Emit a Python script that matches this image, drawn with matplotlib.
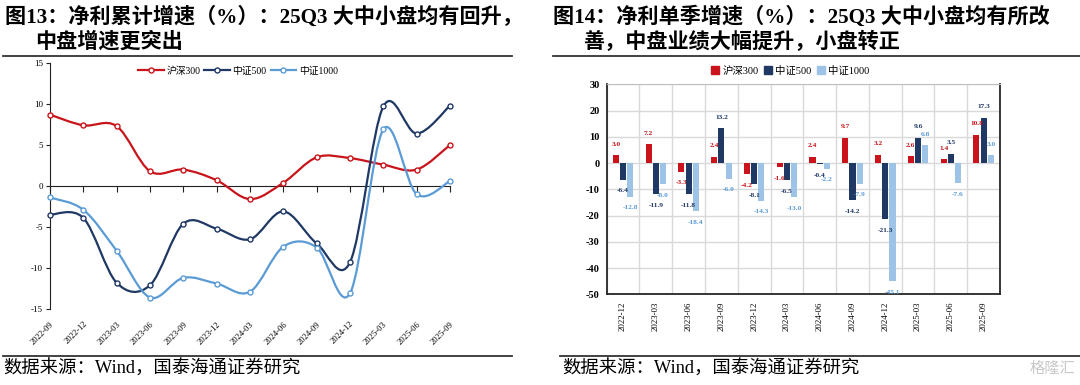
import numpy as np
import matplotlib.pyplot as plt
from matplotlib.path import Path
from matplotlib.patches import PathPatch, Patch
from matplotlib.lines import Line2D

plt.rcParams['font.family'] = ['Liberation Serif', 'Noto Sans CJK SC']
plt.rcParams['axes.unicode_minus'] = False

W, H = 1080, 385

# ---- data: cumulative growth (left) ----
quarters_cum = ['2022-09', '2022-12', '2023-03', '2023-06', '2023-09', '2023-12', '2024-03',
                '2024-06', '2024-09', '2024-12', '2025-03', '2025-06', '2025-09']
hs300_cum = [8.7, 7.4, 7.3, 1.8, 2.0, 0.7, -1.6, 0.4, 3.5, 3.4, 2.6, 2.0, 5.0]
zz500_cum = [-3.5, -3.9, -11.8, -12.1, -4.6, -5.2, -6.5, -3.1, -7.0, -9.3, 9.7, 6.4, 9.8]
zz1000_cum = [-1.4, -2.9, -7.9, -13.6, -11.2, -11.9, -12.9, -7.4, -7.5, -13.1, 6.9, -1.0, 0.6]

# ---- data: single quarter growth (right) ----
quarters_q = ['2022-12', '2023-03', '2023-06', '2023-09', '2023-12', '2024-03',
              '2024-06', '2024-09', '2024-12', '2025-03', '2025-06', '2025-09']
hs300_q = [3.0, 7.2, -3.3, 2.4, -4.2, -1.6, 2.4, 9.7, 3.2, 2.6, 1.4, 10.8]
zz500_q = [-6.4, -11.9, -11.8, 13.2, -8.1, -6.5, -0.4, -14.2, -21.3, 9.6, 3.5, 17.3]
zz1000_q = [-12.8, -8.0, -18.4, -6.0, -14.3, -13.0, -2.2, -7.9, -45.1, 6.8, -7.6, 3.0]

series_names = ['沪深300', '中证500', '中证1000']

RED = '#C8141A'
NAVY = '#1F3864'
LBLUE = '#5B9BD5'
LBAR = '#9DC3E6'


def fx(x):
    return x / W


def fy(y):
    return 1 - y / H


def smooth_path(xs, ys):
    # excel-like smoothed line through the points
    pts = np.column_stack([xs, ys]).astype(float)
    n = len(pts)
    verts = [pts[0]]
    codes = [Path.MOVETO]
    for i in range(n - 1):
        p0 = pts[max(i - 1, 0)]
        p1 = pts[i]
        p2 = pts[i + 1]
        p3 = pts[min(i + 2, n - 1)]
        verts += [p1 + (p2 - p0) / 6, p2 - (p3 - p1) / 6, p2]
        codes += [Path.CURVE4] * 3
    return Path(verts, codes)


fig = plt.figure(figsize=(10.8, 3.85), dpi=100)

# =========================
# TITLES / RULES / FOOTER
# =========================
fig.text(fx(5), fy(17), '图13：净利累计增速（%）：25Q3 大中小盘均有回升，', fontsize=15.2,
         fontweight='bold', va='center', ha='left')
fig.text(fx(35), fy(42), '中盘增速更突出', fontsize=15.2, fontweight='bold', va='center', ha='left')
fig.text(fx(553), fy(17), '图14：净利单季增速（%）：25Q3 大中小盘均有所改', fontsize=15.2,
         fontweight='bold', va='center', ha='left')
fig.text(fx(583), fy(42), '善，中盘业绩大幅提升，小盘转正', fontsize=15.2, fontweight='bold',
         va='center', ha='left')

for x0, x1 in [(3, 512), (553, 1080)]:
    fig.add_artist(Line2D([fx(x0), fx(x1)], [fy(56), fy(56)], color='#333333', lw=1.3,
                          transform=fig.transFigure))
for x0, x1 in [(3, 512), (560, 1080)]:
    fig.add_artist(Line2D([fx(x0), fx(x1)], [fy(356), fy(356)], color='#333333', lw=1.3,
                          transform=fig.transFigure))

fig.text(fx(3), fy(369), '数据来源：Wind，国泰海通证券研究', fontsize=13.2, va='center', ha='left')
fig.text(fx(562), fy(369), '数据来源：Wind，国泰海通证券研究', fontsize=13.2, va='center', ha='left')
fig.text(fx(1075), fy(369), '格隆汇', fontsize=11, va='center', ha='right', color='#C8C8C8')

# =========================
# LEFT: cumulative lines
# =========================
ax1 = fig.add_axes([fx(50), fy(309), 400 / W, 246 / H])
ax1.set_xlim(0, len(quarters_cum) - 1)
ax1.set_ylim(-15, 15)
xs = np.arange(len(quarters_cum))

for vals, c in [(hs300_cum, RED), (zz500_cum, NAVY), (zz1000_cum, LBLUE)]:
    ax1.add_patch(PathPatch(smooth_path(xs, vals), fill=False, edgecolor=c, lw=1.6,
                            clip_on=False, zorder=3))
    ax1.plot(xs, vals, 'o', ms=3.6, mfc='white', mec=c, mew=1.0, zorder=4, clip_on=False)

for s in ['top', 'right']:
    ax1.spines[s].set_visible(False)
ax1.spines['bottom'].set_position(('data', 0))
ax1.spines['bottom'].set_color('#222222')
ax1.spines['left'].set_color('#222222')
ax1.set_xticks(xs)
ax1.tick_params(axis='x', direction='out', length=4, labelbottom=False, color='#222222')
ax1.set_yticks([-15, -10, -5, 0, 5, 10, 15])
ax1.tick_params(axis='y', direction='out', length=3, labelsize=6.5, pad=2, color='#222222')
for i, lab in enumerate(quarters_cum):
    ax1.text(i, -0.045, lab, transform=ax1.get_xaxis_transform(), rotation=45, ha='right',
             va='top', rotation_mode='anchor', fontsize=6.2)

h1 = [Line2D([], [], color=c, lw=1.6, marker='o', ms=3.6, mfc='white', mec=c, mew=1.0)
      for c in [RED, NAVY, LBLUE]]
fig.legend(h1, series_names, loc='center', bbox_to_anchor=(fx(238), fy(71)), ncol=3,
           frameon=False, fontsize=7, handlelength=2.6, columnspacing=0.4, handletextpad=0.3)

# =========================
# RIGHT: single quarter bars
# =========================
ax2 = fig.add_axes([fx(606.7), fy(294.3), 393.3 / W, 210 / H])
xq = np.arange(len(quarters_q))
bw = 0.185
off = 0.22
ax2.set_xlim(-0.5, len(quarters_q) - 0.5)
ax2.set_ylim(-50, 30)

bar_specs = [(hs300_q, -off, RED, RED), (zz500_q, 0, NAVY, NAVY), (zz1000_q, off, LBAR, LBLUE)]
for vals, o, c, tc in bar_specs:
    ax2.bar(xq + o, vals, width=bw, color=c, zorder=3)
    for xi, v in zip(xq, vals):
        ax2.annotate(f'{v:.1f}', (xi + o, v), xytext=(0, 8 if v >= 0 else -8),
                     textcoords='offset points', ha='center', va='center', fontsize=5.3,
                     fontweight='bold', color=tc, annotation_clip=False, zorder=5)

ax2.set_yticks(range(-50, 31, 10))
ax2.set_xticks(xq)
ax2.set_xticklabels(quarters_q, rotation=90, fontsize=6.3)
ax2.set_xticks(np.arange(-0.5, len(quarters_q), 1), minor=True)
ax2.tick_params(axis='x', which='both', length=0, pad=5)
ax2.tick_params(axis='y', length=0, labelsize=7.5, pad=5)
for lab in ax2.get_yticklabels():
    lab.set_fontweight('bold')
ax2.grid(axis='y', which='major', color='#D9D9D9', lw=1)
ax2.grid(axis='x', which='minor', color='#D9D9D9', lw=1)
ax2.set_axisbelow(True)
for s in ['left', 'bottom', 'right']:
    ax2.spines[s].set_color('#262626')
    ax2.spines[s].set_linewidth(1.3)
ax2.spines['top'].set_color('#BFBFBF')

h2 = [Patch(color=c) for c in [RED, NAVY, LBAR]]
fig.legend(h2, series_names, loc='center', bbox_to_anchor=(fx(790), fy(71)), ncol=3,
           frameon=False, fontsize=7.5, handlelength=0.8, handleheight=0.8,
           columnspacing=0.5, handletextpad=0.3)

fig.savefig('out.png', dpi=100)
